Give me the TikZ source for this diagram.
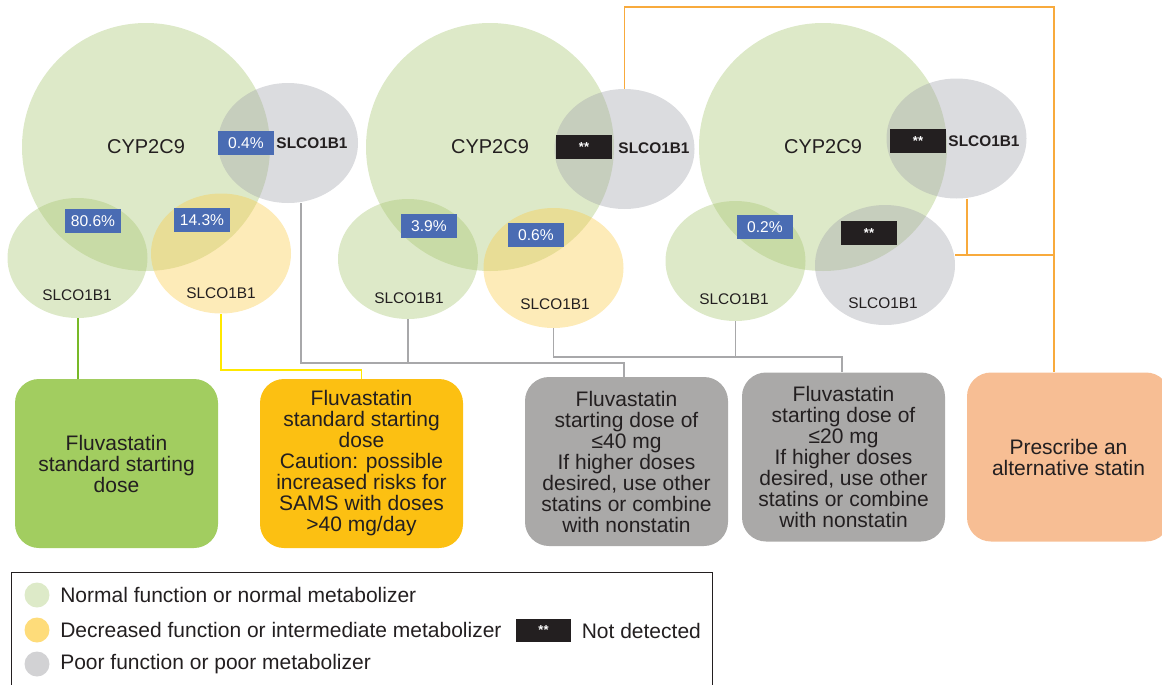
\documentclass[tikz,border=0pt]{standalone}
\usepackage{fontspec}
\setmainfont{Liberation Sans}
\usepackage{xcolor}
\usepackage{tikz}
\usetikzlibrary{shapes.geometric, positioning}

\definecolor{cgreen}{RGB}{166,197,110}
\definecolor{cyellow}{RGB}{250,202,68}
\definecolor{cgrey}{RGB}{160,162,170}
\definecolor{pblue}{RGB}{74,108,179}
\definecolor{nblack}{RGB}{35,31,32}
\definecolor{bgreen}{RGB}{162,205,96}
\definecolor{bamber}{RGB}{252,192,18}
\definecolor{bgrey}{RGB}{170,169,168}
\definecolor{borange}{RGB}{247,190,148}
\definecolor{lgreen}{RGB}{120,185,40}
\definecolor{lyellow}{RGB}{255,232,0}
\definecolor{lgrey}{RGB}{168,168,170}
\definecolor{lorange}{RGB}{248,170,60}
\definecolor{kgreen}{RGB}{221,234,200}
\definecolor{kyellow}{RGB}{254,220,122}
\definecolor{kgrey}{RGB}{210,210,212}

\tikzset{
  bigc/.style={circle, fill=cgreen, fill opacity=.38, text opacity=1, minimum size=124pt, inner sep=0pt, font=\fontsize{10}{12}\selectfont},
  gene/.style={ellipse, fill opacity=.38, minimum width=70pt, minimum height=60pt, inner sep=0pt},
  pct/.style={fill=pblue, text=white, minimum width=28pt, minimum height=12pt, inner sep=0pt, font=\fontsize{7.8}{9}\selectfont},
  nd/.style={fill=nblack, text=white, minimum width=28pt, minimum height=12pt, inner sep=0pt, font=\fontsize{6.5}{7}\selectfont\bfseries},
  slc/.style={inner sep=0pt, font=\fontsize{7.7}{9}\selectfont},
  slcb/.style={inner sep=0pt, font=\fontsize{7.7}{9}\selectfont\bfseries},
  dosebox/.style={rounded corners=12pt, minimum width=101.5pt, minimum height=84.5pt, inner sep=0pt, align=center, font=\fontsize{10.5}{10.5}\selectfont},
  legdot/.style={circle, minimum size=12.5pt, inner sep=0pt},
  legtxt/.style={inner sep=0pt, font=\fontsize{10.5}{12}\selectfont},
  glink/.style={draw=lgreen, line width=1pt},
  ylink/.style={draw=lyellow, line width=.9pt},
  grlink/.style={draw=lgrey, line width=.7pt},
  olink/.style={draw=lorange, line width=.8pt}
}

\begin{document}
\begin{tikzpicture}[x=0.5pt, y=-0.5pt, every node/.style={text=nblack}]
  \useasboundingbox (0,0) rectangle (1162,685);
  \clip (0,0) rectangle (1162,685);

  % first group
  \node[bigc] (g1cyp) at (146,147) {CYP2C9};
  \node[gene, fill=cgrey] (g1top) at (288,143) {};
  \node[gene, fill=cgreen] (g1left) at (77.5,258) {};
  \node[gene, fill=cyellow] (g1right) at (221,253.5) {};
  \node[pct] at (246,143) {0.4\%};
  \node[slcb] at (312,143) {SLCO1B1};
  \node[pct] at (93,221) {80.6\%};
  \node[pct] at (202,220) {14.3\%};
  \node[slc] at (77,295) {SLCO1B1};
  \node[slc] at (221,293) {SLCO1B1};

  % second group
  \node[bigc] (g2cyp) at (490,147) {CYP2C9};
  \node[gene, fill=cgrey] (g2top) at (624.5,149) {};
  \node[gene, fill=cgreen] (g2left) at (408,259) {};
  \node[gene, fill=cyellow] (g2right) at (553.5,268) {};
  \node[nd] at (584,147) {**};
  \node[slcb] at (654,148) {SLCO1B1};
  \node[pct] at (429,226) {3.9\%};
  \node[pct] at (536,235) {0.6\%};
  \node[slc] at (409,298) {SLCO1B1};
  \node[slc] at (555,304) {SLCO1B1};

  % third group
  \node[bigc] (g3cyp) at (823,147) {CYP2C9};
  \node[gene, fill=cgrey] (g3top) at (956.5,138.5) {};
  \node[gene, fill=cgreen] (g3left) at (735.5,261) {};
  \node[gene, fill=cgrey] (g3bot) at (885,265) {};
  \node[nd] at (918,141) {**};
  \node[slcb] at (984,141) {SLCO1B1};
  \node[pct] at (765,227) {0.2\%};
  \node[nd] at (869,233) {**};
  \node[slc] at (734,299) {SLCO1B1};
  \node[slc] at (883,303) {SLCO1B1};

  % recommendations
  \node[dosebox, fill=bgreen] (dstd) at (116.5,463.5) {Fluvastatin\\standard starting\\dose};
  \node[dosebox, fill=bamber] (dcaut) at (361.5,463.5) {Fluvastatin\\standard starting\\dose\\Caution: possible\\increased risks for\\SAMS with doses\\>40 mg/day};
  \node[dosebox, fill=bgrey] (d40) at (626.5,461.5) {Fluvastatin\\starting dose of\\≤40 mg\\If higher doses\\desired, use other\\statins or combine\\with nonstatin};
  \node[dosebox, fill=bgrey] (d20) at (843.5,457) {Fluvastatin\\starting dose of\\≤20 mg\\If higher doses\\desired, use other\\statins or combine\\with nonstatin};
  \node[dosebox, fill=borange] (dalt) at (1068.5,457) {Prescribe an\\alternative statin};

  % connectors
  \draw[glink] (g1left.south) -- (g1left.south |- dstd.north);
  \draw[ylink] (g1right.south) -- ++(0,56) -| (dcaut.north);
  \coordinate (ta) at (624,363);
  \draw[grlink] ([xshift=6.5pt]g1top.south) |- (ta) -- (ta |- d40.north);
  \draw[grlink] (g2left.south) -- (g2left.south |- ta);
  \coordinate (tb) at (842,357);
  \draw[grlink] (g2right.south) |- (tb) -- (tb |- d20.north);
  \draw[grlink] (g3left.south) -- (g3left.south |- tb);
  \coordinate (ot) at (1054,7);
  \coordinate (ob) at (1054,255);
  \draw[olink] (g2top.north) |- (ot) -- (ot |- dalt.north);
  \draw[olink] ([yshift=5pt]g3bot.east) -- (ob);
  \draw[olink] ([xshift=5.25pt]g3top.south) -- ([xshift=5.25pt]g3top.south |- ob);

  % legend
  \node[draw=nblack, line width=.5pt, minimum width=350.5pt, minimum height=64pt, anchor=north west] (legend) at (11,572) {};
  \node[legdot, fill=kgreen] (kn) at (37,595) {};
  \node[legtxt, right=5pt of kn] {Normal function or normal metabolizer};
  \node[legdot, fill=kyellow] (kd) at (37,630) {};
  \node[legtxt, right=5pt of kd] {Decreased function or intermediate metabolizer};
  \node[legdot, fill=kgrey] (kp) at (37,664) {};
  \node[legtxt, right=5pt of kp] {Poor function or poor metabolizer};
  \node[nd, minimum width=27.5pt, minimum height=11.5pt] (knd) at (543.5,630.5) {**};
  \node[legtxt, right=5pt of knd] {Not detected};
\end{tikzpicture}
\end{document}
